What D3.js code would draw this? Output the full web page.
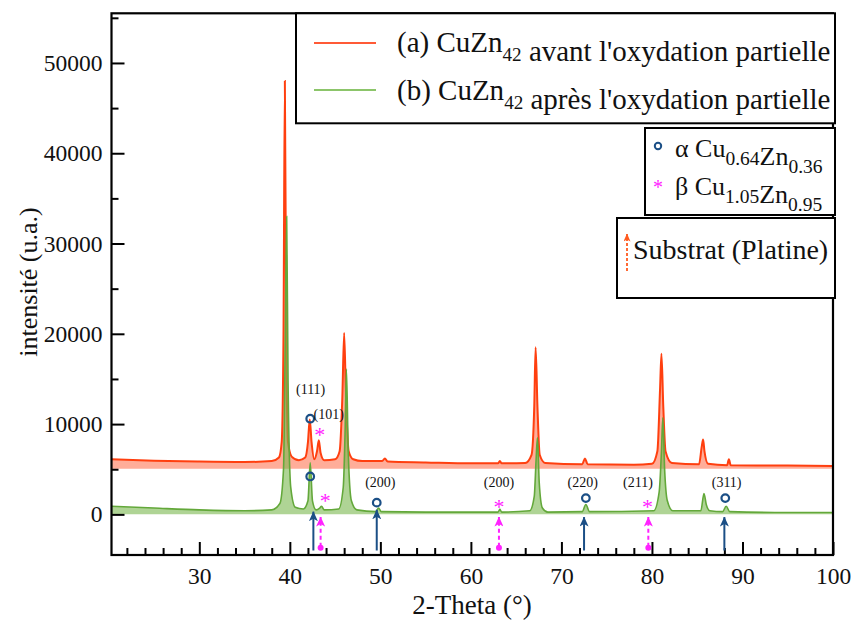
<!DOCTYPE html>
<html><head><meta charset="utf-8">
<script src="https://cdn.jsdelivr.net/npm/d3@7"></script>
<style>
html,body{margin:0;padding:0;background:#fff;}
text{font-family:"Liberation Serif","Times New Roman",serif;}
</style></head>
<body><svg id="c" width="851" height="624"></svg>
<script>
// ---- data ----
const redTheta = [20.3,25,30,35,38.0,38.8,39.1,39.3,39.45,39.6,39.8,40.2,41.0,41.7,42.0,42.2,42.4,42.7,43.0,43.2,43.4,43.8,45.0,45.5,45.8,46.0,46.2,46.5,47.0,48,50.2,50.5,50.8,55,60,63.0,63.2,63.4,66.0,66.7,67.0,67.15,67.35,67.6,68.2,72.3,72.6,72.9,78,80.0,80.6,80.9,81.05,81.25,81.5,82.2,85.2,85.5,85.65,85.8,86.2,88.3,88.5,88.7,95,100];
const redIntensity = [6100,5950,5850,5800,5900,6300,8000,20000,48000,20000,8000,6400,6000,6300,8000,10500,8000,6100,7000,8200,6800,6000,6100,7000,13000,20100,13000,7000,6100,5900,5900,6200,5850,5750,5650,5650,5900,5650,5700,6600,12000,18500,12000,6600,5700,5550,6200,5550,5500,5600,7000,14000,17800,12000,7000,5700,5550,7500,8300,7000,5600,5450,6100,5450,5400,5350];
const greenTheta = [20.3,25,30,35,38.0,38.9,39.3,39.5,39.65,39.8,40.1,40.6,41.5,42.0,42.25,42.5,42.9,43.3,43.5,43.8,45.4,45.9,46.1,46.25,46.45,46.8,47.4,49.5,49.8,50.1,55,63.0,63.2,63.4,66.5,67.0,67.2,67.35,67.55,67.9,68.5,72.3,72.7,73.1,80.2,80.8,81.05,81.2,81.4,81.7,82.3,85.4,85.75,86.0,86.4,87.8,88.2,88.6,95,100];
const greenIntensity = [900,700,500,400,500,1200,5000,20000,33000,15000,3000,800,600,1500,5700,1500,500,700,900,500,600,3000,9000,16100,7000,1500,500,300,700,300,250,250,550,250,400,2000,6000,8500,3500,700,250,300,1100,300,400,2500,7000,10700,5000,1500,400,400,2300,1100,400,300,900,300,200,200];
const redBase = 5050, greenBase = 0;

const xMajorTicks = [30,40,50,60,70,80,90,100];
const xMinorTicks = [22,24,26,28,32,34,36,38,42,44,46,48,52,54,56,58,62,64,66,68,72,74,76,78,82,84,86,88,92,94,96,98];
const yMajorTicks = [0,10000,20000,30000,40000,50000];
const yMinorTicks = [5000,15000,25000,35000,45000,55000];

const alphaTheta = [42.25,42.25,49.6,72.7,88.1];
const alphaIntensity = [10600,4200,1300,1800,1800];
const betaTheta = [43.3,43.9,63.1,79.5];
const betaIntensity = [9300,2000,1400,1400];
const hklLabels = ["(111)","(101)","(200)","(200)","(220)","(211)","(311)"];
const hklTheta = [42.3,44.3,50.0,63.1,72.35,78.45,88.25];
const hklIntensity = [13900,11100,3600,3600,3600,3600,3600];
const alphaArrowTheta = [42.6,49.6,72.5,88.0];
const alphaArrowTip = [300,500,-300,-300];
const betaArrowTheta = [43.4,63.1,79.6];

// ---- layout ----
const svg = d3.select("#c");
const L=111.5, R=833, T=13.3, B=555;
const x = d3.scaleLinear().domain([20.3,100]).range([L,R]);
const y = d3.scaleLinear().domain([-4500,55500]).range([B,T]);

const redCol="#ff3f0f", greenCol="#63a83a", navy="#1b4f86", mag="#ff22ff";

const defs = svg.append("defs");
function marker(id,col,len,wid){
  defs.append("marker").attr("id",id).attr("viewBox",`0 0 ${len} ${wid}`).attr("refX",len-0.5).attr("refY",wid/2)
   .attr("markerWidth",len).attr("markerHeight",wid).attr("orient","auto").attr("markerUnits","userSpaceOnUse")
   .append("path").attr("d",`M0,0 L${len},${wid/2} L0,${wid} L${len*0.25},${wid/2} Z`).attr("fill",col);
}
defs.append("clipPath").attr("id","clip").append("rect").attr("x",L).attr("y",T).attr("width",R-L).attr("height",B-T);

const redData = redTheta.map((t,i)=>[t,redIntensity[i]]);
const greenData = greenTheta.map((t,i)=>[t,greenIntensity[i]]);
const line = d3.line().x(d=>x(d[0])).y(d=>y(d[1])).curve(d3.curveMonotoneX);
const area = base => d3.area().x(d=>x(d[0])).y0(y(base)).y1(d=>y(d[1])).curve(d3.curveMonotoneX);

const g = svg.append("g").attr("clip-path","url(#clip)");
g.append("path").datum(redData).attr("d",area(redBase)).attr("fill","#ff4a1c").attr("fill-opacity",0.45);
g.append("path").datum(redData).attr("d",line).attr("fill","none").attr("stroke",redCol).attr("stroke-width",2);
g.append("path").datum(greenData).attr("d",area(greenBase)).attr("fill","#79b84f").attr("fill-opacity",0.6);
g.append("path").datum(greenData).attr("d",line).attr("fill","none").attr("stroke",greenCol).attr("stroke-width",1.6);

// axes
const fs = 23.5;
svg.append("g").attr("transform",`translate(0,${B})`)
  .call(d3.axisBottom(x).tickValues(xMajorTicks).tickSize(-13).tickPadding(12).tickFormat(d3.format("d")));
svg.append("g").attr("transform",`translate(0,${B})`)
  .call(d3.axisBottom(x).tickValues(xMinorTicks).tickSize(-7).tickFormat(""));
svg.append("g").attr("transform",`translate(${L},0)`)
  .call(d3.axisLeft(y).tickValues(yMajorTicks).tickSize(-13).tickPadding(9).tickFormat(d3.format("d")));
svg.append("g").attr("transform",`translate(${L},0)`)
  .call(d3.axisLeft(y).tickValues(yMinorTicks).tickSize(-7).tickFormat(""));
svg.selectAll(".domain").remove();
svg.selectAll(".tick line").attr("stroke","#000").attr("stroke-width",2);
svg.selectAll(".tick text").attr("font-family","Liberation Serif, serif").attr("font-size",fs).attr("fill","#111");

// frame
svg.append("rect").attr("x",L).attr("y",T).attr("width",R-L).attr("height",B-T)
  .attr("fill","none").attr("stroke","#000").attr("stroke-width",2.2);

// axis titles
svg.append("text").attr("x",472).attr("y",614).attr("text-anchor","middle").attr("font-size",27).attr("fill","#111").text("2-Theta (°)");
svg.append("text").attr("transform","translate(37,282) rotate(-90)").attr("text-anchor","middle").attr("font-size",26).attr("fill","#111").text("intensité (u.a.)");

// arrows
marker("navyHead",navy,10,9); marker("magHead",mag,10,9);
alphaArrowTheta.forEach((t,i)=>{
  svg.append("line").attr("x1",x(t)).attr("x2",x(t)).attr("y1",y(-4000)).attr("y2",y(alphaArrowTip[i]))
   .attr("stroke",navy).attr("stroke-width",2).attr("marker-end","url(#navyHead)");
});
betaArrowTheta.forEach(t=>{
  svg.append("line").attr("x1",x(t)).attr("x2",x(t)).attr("y1",y(-3600)).attr("y2",y(-300))
   .attr("stroke",mag).attr("stroke-width",2).attr("stroke-dasharray","4,3").attr("marker-end","url(#magHead)");
  svg.append("circle").attr("cx",x(t)).attr("cy",y(-3700)).attr("r",3).attr("fill",mag);
});

// markers
alphaTheta.forEach((t,i)=>{
  svg.append("circle").attr("cx",x(t)).attr("cy",y(alphaIntensity[i])).attr("r",3.8)
   .attr("fill","none").attr("stroke",navy).attr("stroke-width",2.2);
});
betaTheta.forEach((t,i)=>{
  svg.append("text").attr("x",x(t)).attr("y",y(betaIntensity[i])+12).attr("text-anchor","middle")
   .attr("font-family","Liberation Sans, sans-serif").attr("font-size",22).attr("fill",mag).text("*");
});
hklLabels.forEach((s,i)=>{
  svg.append("text").attr("x",x(hklTheta[i])).attr("y",y(hklIntensity[i])+5).attr("text-anchor","middle")
   .attr("font-size",14).attr("fill","#111").text(s);
});

// legend 1
const lg = svg.append("g");
lg.append("rect").attr("x",296).attr("y",T).attr("width",539).attr("height",110).attr("fill","#fff").attr("stroke","#000").attr("stroke-width",2);
lg.append("line").attr("x1",314).attr("x2",376).attr("y1",43).attr("y2",43).attr("stroke","#ff5a36").attr("stroke-width",2);
lg.append("line").attr("x1",314).attr("x2",376).attr("y1",90).attr("y2",90).attr("stroke","#8cc56a").attr("stroke-width",2);
function subText(sel, parts, xx, yy, size, ratio){
  const t = sel.append("text").attr("x",xx).attr("y",yy).attr("font-size",size).attr("fill","#111");
  parts.forEach(p=>{
    if(p.sub){ t.append("tspan").attr("font-size",size*ratio).attr("dy",size*0.3).text(p.s); t.append("tspan").attr("dy",-size*0.3).text(""); }
    else t.append("tspan").text(p.s);
  });
  return t;
}
subText(lg,[{s:"(a) CuZn"},{s:"42",sub:1},{s:" avant l'oxydation partielle"}],397,52,29,0.66);
subText(lg,[{s:"(b) CuZn"},{s:"42",sub:1},{s:" après l'oxydation partielle"}],397,100,29,0.66);

// legend 2
lg.append("rect").attr("x",645).attr("y",128).attr("width",190).attr("height",87).attr("fill","#fff").attr("stroke","#000").attr("stroke-width",2);
lg.append("circle").attr("cx",658).attr("cy",146).attr("r",3.2).attr("fill","none").attr("stroke",navy).attr("stroke-width",2);
lg.append("text").attr("x",658).attr("y",194).attr("text-anchor","middle").attr("font-family","Liberation Sans, sans-serif").attr("font-size",20).attr("fill",mag).text("*");
subText(lg,[{s:"α Cu"},{s:"0.64",sub:1},{s:"Zn"},{s:"0.36",sub:1}],675,157,26,0.75);
subText(lg,[{s:"β Cu"},{s:"1.05",sub:1},{s:"Zn"},{s:"0.95",sub:1}],675,195,26,0.75);

// legend 3
lg.append("rect").attr("x",617).attr("y",218).attr("width",218).attr("height",80).attr("fill","#fff").attr("stroke","#000").attr("stroke-width",2);
marker("orHead","#ff5a1f",8,7);
lg.append("line").attr("x1",627).attr("x2",627).attr("y1",271).attr("y2",234).attr("stroke","#ff5a1f").attr("stroke-width",1.8).attr("stroke-dasharray","3,2").attr("marker-end","url(#orHead)");
lg.append("text").attr("x",633).attr("y",259).attr("font-size",28).attr("fill","#111").text("Substrat (Platine)");
</script></body></html>
